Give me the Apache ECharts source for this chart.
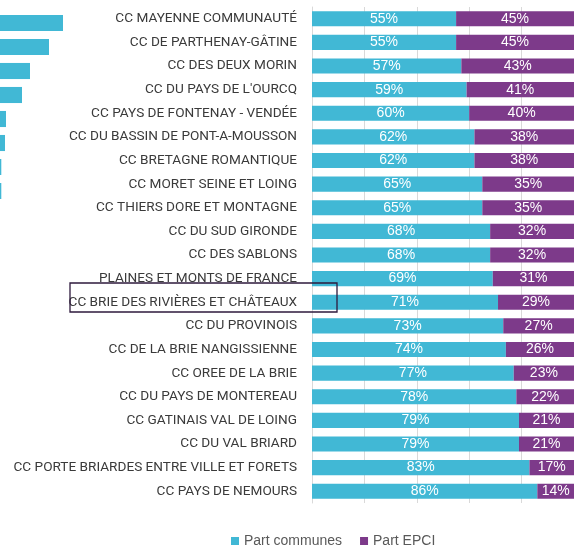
<!DOCTYPE html>
<html>
<head>
<meta charset="utf-8">
<script src="https://cdn.jsdelivr.net/npm/echarts@6/dist/echarts.min.js"></script>
<style>
  html, body { margin: 0; padding: 0; background: #fff; }
  #bar-chart { width: 574px; height: 546px; }
</style>
</head>
<body>
<div id="bar-chart"></div>
<script>
// ==============================================================
// data
// ==============================================================
var categories = [
    'CC MAYENNE COMMUNAUTÉ',
    'CC DE PARTHENAY-GÂTINE',
    'CC DES DEUX MORIN',
    "CC DU PAYS DE L'OURCQ",
    'CC PAYS DE FONTENAY - VENDÉE',
    'CC DU BASSIN DE PONT-A-MOUSSON',
    'CC BRETAGNE ROMANTIQUE',
    'CC MORET SEINE ET LOING',
    'CC THIERS DORE ET MONTAGNE',
    'CC DU SUD GIRONDE',
    'CC DES SABLONS',
    'PLAINES ET MONTS DE FRANCE',
    'CC BRIE DES RIVIÈRES ET CHÂTEAUX',
    'CC DU PROVINOIS',
    'CC DE LA BRIE NANGISSIENNE',
    'CC OREE DE LA BRIE',
    'CC DU PAYS DE MONTEREAU',
    'CC GATINAIS VAL DE LOING',
    'CC DU VAL BRIARD',
    'CC PORTE BRIARDES ENTRE VILLE ET FORETS',
    'CC PAYS DE NEMOURS'
];
var partCommunes = [55, 55, 57, 59, 60, 62, 62, 65, 65, 68, 68, 69, 71, 73, 74, 77, 78, 79, 79, 83, 86];
var partEpci     = [45, 45, 43, 41, 40, 38, 38, 35, 35, 32, 32, 31, 29, 27, 26, 23, 22, 21, 21, 17, 14];

// cut-off bars of the neighbouring chart on the left edge
var voisinRows   = ['1', '2', '3', '4', '5', '6', '7', '8'];
var voisinValues = [63, 49, 30, 22, 6, 5, 1.3, 1.3];

var cyan = '#41B8D5';
var purple = '#7D3A8A';

var myChart = echarts.init(document.getElementById('bar-chart'));

option = {
    animation: false,
    legend: {
        data: ['Part communes', 'Part EPCI'],
        left: 231,
        top: 534,
        padding: 0,
        itemWidth: 8,
        itemHeight: 8,
        itemGap: 18,
        icon: 'rect',
        textStyle: { fontFamily: 'Liberation Sans', fontSize: 14, color: '#595959' }
    },
    grid: [
        { left: 312, right: 0, top: 7, bottom: 43, outerBoundsMode: 'none' },
        { left: 0, top: 11, width: 100, height: 192, outerBoundsMode: 'none' }
    ],
    xAxis: [
        {
            gridIndex: 0,
            type: 'value',
            min: 0,
            max: 100,
            interval: 20,
            axisLabel: { show: false },
            axisLine: { show: false },
            axisTick: { show: false },
            splitLine: { lineStyle: { color: '#D9D9D9', width: 1 } }
        },
        {
            gridIndex: 1,
            type: 'value',
            min: 0,
            max: 100,
            show: false
        }
    ],
    yAxis: [
        {
            gridIndex: 0,
            type: 'category',
            inverse: true,
            data: categories,
            axisTick: { show: false },
            axisLine: { show: true, lineStyle: { color: '#D9D9D9' } },
            axisLabel: {
                margin: 15,
                fontFamily: 'Roboto',
                fontSize: 13.6,
                color: '#3A3A3A'
            }
        },
        {
            gridIndex: 1,
            type: 'category',
            inverse: true,
            data: voisinRows,
            show: false
        }
    ],
    series: [
        {
            name: 'Part communes',
            type: 'bar',
            stack: 'total',
            barCategoryGap: '36%',
            itemStyle: { color: cyan },
            label: {
                show: true,
                position: 'inside',
                formatter: '{c}%',
                color: '#fff',
                fontFamily: 'Liberation Sans',
                fontSize: 14
            },
            data: partCommunes
        },
        {
            name: 'Part EPCI',
            type: 'bar',
            stack: 'total',
            barCategoryGap: '36%',
            itemStyle: { color: purple },
            label: {
                show: true,
                position: 'inside',
                formatter: '{c}%',
                color: '#fff',
                fontFamily: 'Liberation Sans',
                fontSize: 14
            },
            data: partEpci
        },
        {
            name: 'voisin',
            type: 'bar',
            xAxisIndex: 1,
            yAxisIndex: 1,
            barCategoryGap: '33%',
            silent: true,
            itemStyle: { color: cyan },
            data: voisinValues
        }
    ],
    graphic: [
        {
            type: 'rect',
            z: 100,
            shape: { x: 70, y: 283, width: 267, height: 29 },
            style: { fill: 'none', stroke: '#2E1A3D', lineWidth: 1.3 }
        }
    ]
};

myChart.setOption(option, true);
</script>
</body>
</html>
